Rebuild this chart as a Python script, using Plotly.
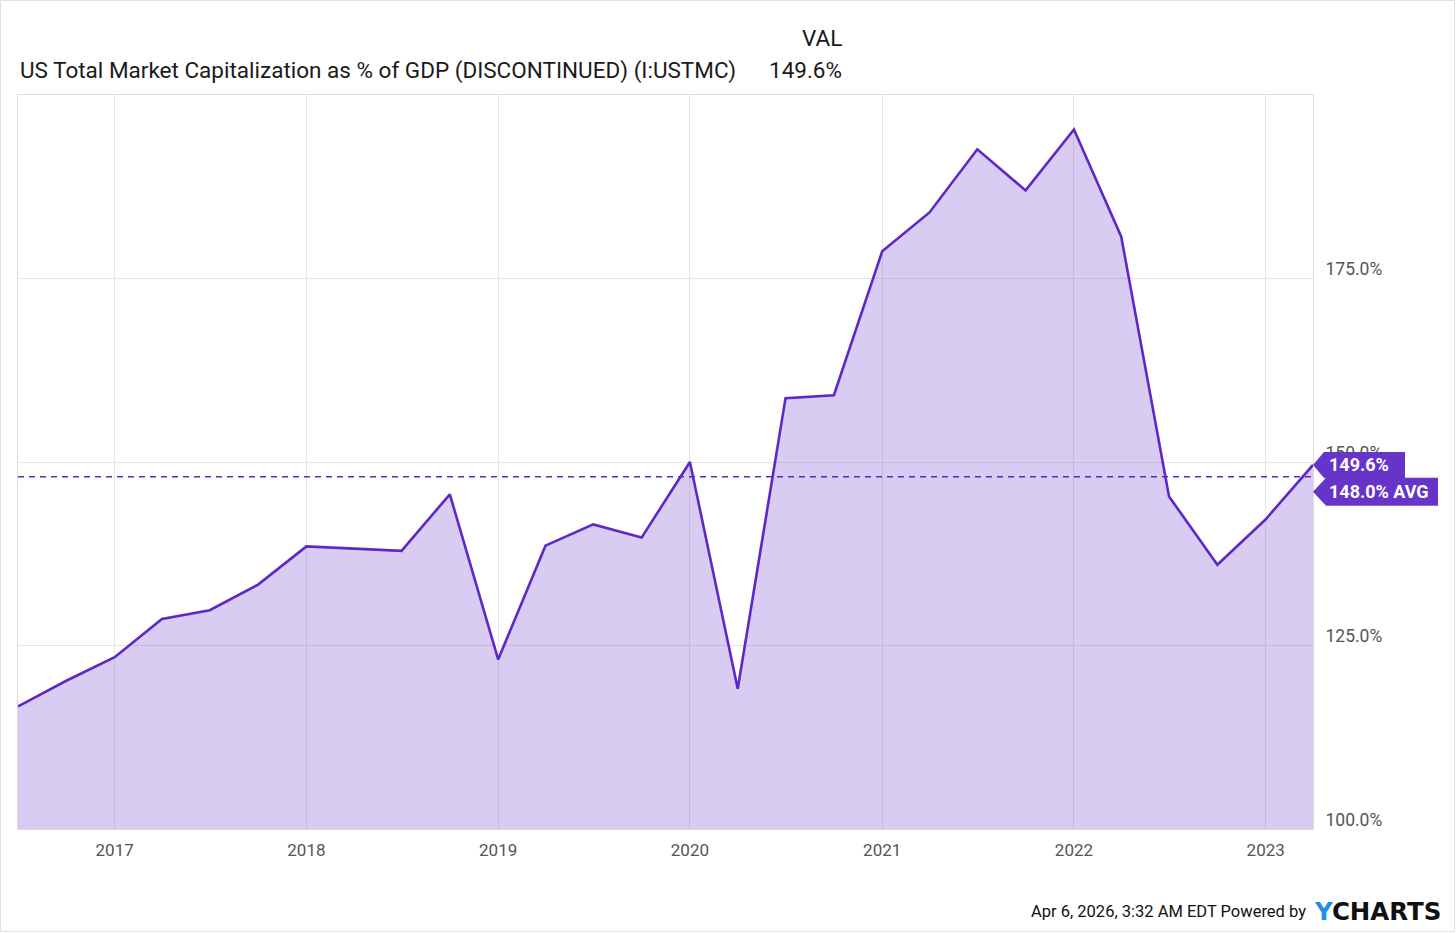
import plotly.graph_objects as go

dates = ["2016-07-01", "2016-10-01", "2017-01-01", "2017-04-01", "2017-07-01", "2017-10-01",
         "2018-01-01", "2018-04-01", "2018-07-01", "2018-10-01", "2019-01-01", "2019-04-01",
         "2019-07-01", "2019-10-01", "2020-01-01", "2020-04-01", "2020-07-01", "2020-10-01",
         "2021-01-01", "2021-04-01", "2021-07-01", "2021-10-01", "2022-01-01", "2022-04-01",
         "2022-07-01", "2022-10-01", "2023-01-01", "2023-04-01"]
values = [116.7, 120.2, 123.4, 128.6, 129.8, 133.3,
          138.5, 138.2, 137.9, 145.6, 123.1, 138.6,
          141.5, 139.7, 150.0, 119.1, 158.7, 159.1,
          178.7, 184.0, 192.6, 187.0, 195.3, 180.7,
          145.3, 136.0, 142.2, 149.6]
avg_value = 148.0
last_value = 149.6
y_ticks = [100, 125, 150, 175]
y_tick_labels = [f"{v:.1f}%" for v in y_ticks]
title_text = "US Total Market Capitalization as % of GDP (DISCONTINUED) (I:USTMC)"

LINE = "#5f27c6"
BOX = "#6634c9"
FONT = "Roboto"

W, H = 1456, 933
ML, MR, MT, MB = 18, 143, 95, 104
PW, PH = W - ML - MR, H - MT - MB


def px_x(p):
    return (p - ML) / PW


def px_y(p):
    return 1 - (p - MT) / PH


fig = go.Figure()
fig.add_trace(go.Scatter(
    x=dates, y=values, mode="lines",
    line=dict(color=LINE, width=2.6),
    fill="tozeroy", fillcolor="rgba(102,51,204,0.25)",
    hoverinfo="skip", showlegend=False,
))

shapes = [
    dict(type="line", xref="paper", x0=0, x1=1, yref="y", y0=avg_value, y1=avg_value,
         line=dict(color=LINE, width=1.5, dash="6px,5px"), layer="above"),
    dict(type="path", xref="paper", yref="y", xsizemode="pixel", ysizemode="pixel",
         xanchor=1, yanchor=last_value,
         path="M0,0 L11,13 L92,13 L92,-13 L11,-13 Z",
         fillcolor=BOX, line=dict(width=0), layer="above"),
    dict(type="path", xref="paper", yref="y", xsizemode="pixel", ysizemode="pixel",
         xanchor=1, yanchor=avg_value,
         path="M0,-15 L13,-1 L125,-1 L125,-29 L13,-29 Z",
         fillcolor=BOX, line=dict(width=0), layer="above"),
    dict(type="rect", xref="paper", yref="paper",
         x0=px_x(0.5), x1=px_x(W - 1.5),
         y0=px_y(H - 1.5), y1=px_y(0.5),
         line=dict(color="#e0e0e0", width=1), layer="below"),
]

annotations = [
    dict(text=title_text, xref="paper", yref="paper", x=px_x(18), y=px_y(70),
         xanchor="left", yanchor="middle", showarrow=False,
         font=dict(family=FONT, size=22.5, color="#1a1a1a")),
    dict(text="VAL", xref="paper", yref="paper", x=px_x(844), y=px_y(38),
         xanchor="right", yanchor="middle", showarrow=False,
         font=dict(family=FONT, size=22.5, color="#1a1a1a")),
    dict(text=f"{last_value:.1f}%", xref="paper", yref="paper", x=px_x(844), y=px_y(70),
         xanchor="right", yanchor="middle", showarrow=False,
         font=dict(family=FONT, size=22.5, color="#1a1a1a")),
    dict(text=f"<b>{last_value:.1f}%</b>", xref="paper", yref="y", x=1, y=last_value,
         xanchor="left", yanchor="middle", xshift=14, showarrow=False,
         font=dict(family=FONT, size=18, color="white")),
    dict(text=f"<b>{avg_value:.1f}% AVG</b>", xref="paper", yref="y", x=1, y=avg_value,
         xanchor="left", yanchor="middle", xshift=14, yshift=-15, showarrow=False,
         font=dict(family=FONT, size=18, color="white")),
    dict(text="Apr 6, 2026, 3:32 AM EDT Powered by", xref="paper", yref="paper",
         x=px_x(1308), y=px_y(911),
         xanchor="right", yanchor="middle", showarrow=False,
         font=dict(family=FONT, size=16.5, color="#111")),
    dict(text="<b><span style='color:#1e8fe6'>Y</span>CHARTS</b>", xref="paper", yref="paper",
         x=px_x(1312), y=px_y(911),
         xanchor="left", yanchor="middle", showarrow=False,
         font=dict(family="DejaVu Sans", size=24.5, color="#111")),
]

fig.update_layout(
    width=W, height=H,
    margin=dict(l=ML, r=MR, t=MT, b=MB, pad=0),
    paper_bgcolor="white", plot_bgcolor="white",
    shapes=shapes, annotations=annotations,
    font=dict(family=FONT),
    xaxis=dict(
        type="date", range=[dates[0], dates[-1]],
        tick0="2017-01-01", dtick="M12", tickformat="%Y",
        showgrid=True, gridcolor="#e6e6e6", gridwidth=1,
        showline=True, linecolor="#dcdcdc", linewidth=1, mirror=True,
        ticks="", ticklen=0, ticklabelstandoff=6,
        tickfont=dict(family=FONT, size=17, color="#555"),
        zeroline=False, fixedrange=True,
    ),
    yaxis=dict(
        range=[100, 200], side="right",
        tickvals=y_ticks, ticktext=y_tick_labels,
        ticklabelposition="outside top", ticklabelstandoff=8, ticklabelshift=3,
        showgrid=True, gridcolor="#e6e6e6", gridwidth=1,
        showline=True, linecolor="#dcdcdc", linewidth=1, mirror=True,
        ticks="", ticklen=0,
        tickfont=dict(family=FONT, size=17.5, color="#555"),
        zeroline=False, fixedrange=True,
    ),
)

fig.write_html("out.html", config={"displayModeBar": False},
               post_script="document.body.style.margin='0';")
